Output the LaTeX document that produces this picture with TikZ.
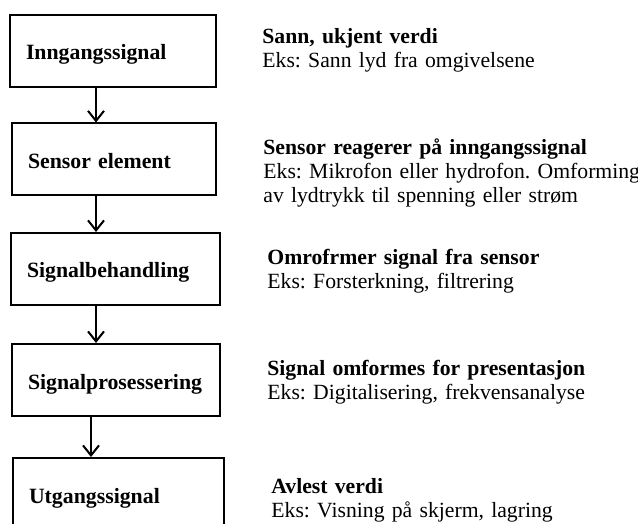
\documentclass[tikz,border=0pt]{standalone}
\usepackage{fontspec}
\setmainfont{Liberation Serif}
\frenchspacing
\usetikzlibrary{arrows.meta}
\tikzstyle{block}  = [draw=black, line width=1pt, minimum height=36pt, inner xsep=8pt, text height=9pt, text depth=0pt, align=left, font=\bfseries\fontsize{10.9}{12}\selectfont]
\tikzstyle{note}   = [anchor=base west, inner sep=0pt, text width=220pt, align=left, font=\fontsize{10.85}{12}\selectfont]
\tikzstyle{arrow}  = [line width=1pt, -{Straight Barb[length=5pt,width=8pt]}]

\begin{document}
\begin{tikzpicture}[x=0.5pt, y=-0.5pt]
  \useasboundingbox (0,0) rectangle (638,524);
  \node[block, text width=87pt]   (Inngang)      at (113,51)    {Inngangssignal};
  \node[block, text width=86pt]   (Sensor)       at (114,159.5) {Sensor element};
  \node[block, text width=88.5pt] (Behandling)   at (115.5,269) {Signalbehandling};
  \node[block, text width=88pt]   (Prosessering) at (116,380)   {Signalprosessering};
  \node[block, text width=89.5pt] (Utgang)       at (118.5,494) {Utgangssignal};
  \foreach \a/\b/\d in {Inngang/Sensor/-8.5, Sensor/Behandling/-9, Behandling/Prosessering/-9.75, Prosessering/Utgang/-12.5} {
      \draw[arrow] ([xshift=\d pt]\a.south) -- ([xshift=\d pt]\a.south |- \b.north);
  }
  \node[note] (InngangTxt)      at (262,44)  {\textbf{Sann, ukjent verdi}\\Eks: Sann lyd fra omgivelsene};
  \node[note] (SensorTxt)       at (263,155) {\textbf{Sensor reagerer på inngangssignal}\\Eks: Mikrofon eller hydrofon. Omforming\\av lydtrykk til spenning eller strøm};
  \node[note] (BehandlingTxt)   at (267,264) {\textbf{Omrofrmer signal fra sensor}\\Eks: Forsterkning, filtrering};
  \node[note] (ProsesseringTxt) at (267,375) {\textbf{Signal omformes for presentasjon}\\Eks: Digitalisering, frekvensanalyse};
  \node[note] (UtgangTxt)       at (271,493) {\textbf{Avlest verdi}\\Eks: Visning på skjerm, lagring};
\end{tikzpicture}
\end{document}
